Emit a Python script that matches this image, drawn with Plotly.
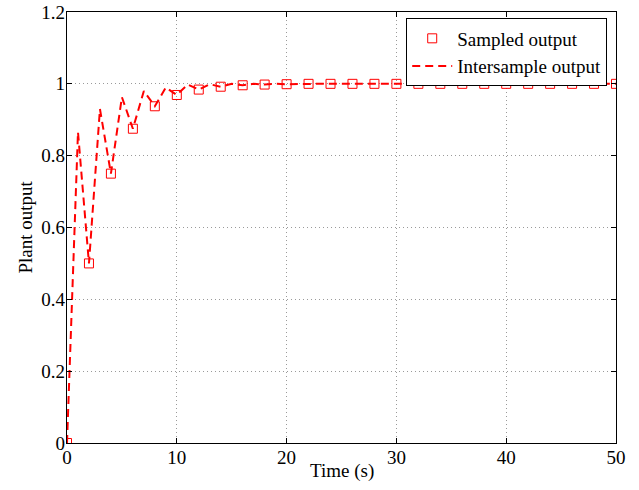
import plotly.graph_objects as go

# Sampled output (every 2 s)
t_sampled = [0, 2, 4, 6, 8, 10, 12, 14, 16, 18, 20, 22, 24, 26, 28, 30, 32, 34, 36, 38, 40, 42, 44, 46, 48, 50]
y_sampled = [0, 0.5, 0.75, 0.875, 0.9375, 0.969, 0.984, 0.992, 0.996, 0.998, 0.999, 1, 1, 1, 1, 1, 1, 1, 1, 1, 1, 1, 1, 1, 1, 1]

# Intersample output (every 1 s)
t_inter = [0, 1, 2, 3, 4, 5, 6, 7, 8, 9, 10, 11, 12, 13, 14, 15, 16, 17, 18, 19, 20,
           21, 22, 23, 24, 25, 26, 27, 28, 29, 30, 31, 32, 33, 34, 35, 36, 37, 38, 39, 40,
           41, 42, 43, 44, 45, 46, 47, 48, 49, 50]
y_inter = [0, 0.866, 0.5, 0.93, 0.75, 0.963, 0.875, 0.98, 0.9375, 0.99, 0.969, 0.998, 0.984, 0.999, 0.992, 1, 0.996, 1, 0.998, 1, 0.999,
           1, 1, 1, 1, 1, 1, 1, 1, 1, 1, 1, 1, 1, 1, 1, 1, 1, 1, 1, 1,
           1, 1, 1, 1, 1, 1, 1, 1, 1, 1]

x_ticks = [0, 10, 20, 30, 40, 50]
y_ticks = [0, 0.2, 0.4, 0.6, 0.8, 1, 1.2]
y_tick_labels = ["0", "0.2", "0.4", "0.6", "0.8", "1", "1.2"]

font = "Liberation Serif, Times New Roman, serif"
fs = 19

fig = go.Figure()
fig.add_trace(go.Scatter(
    x=t_sampled, y=y_sampled, mode="markers", name="Sampled output",
    marker=dict(symbol="square-open", size=9, color="#ff0000", line=dict(width=1)),
))
fig.add_trace(go.Scatter(
    x=t_inter, y=y_inter, mode="lines", name="Intersample output",
    line=dict(color="#ff0000", width=2, dash="8px,5px"),
))

axis_common = dict(
    showline=True, linecolor="black", linewidth=1.2, mirror="ticks",
    ticks="inside", ticklen=5, tickcolor="black",
    showgrid=True, gridcolor="#9a9a9a", griddash="1px,3px", gridwidth=1,
    zeroline=False, tickfont=dict(family=font, size=fs, color="black"),
    automargin=False, ticklabelstandoff=-3,
)

fig.update_xaxes(range=[0, 50], tickvals=x_ticks, **axis_common)
fig.update_yaxes(range=[0, 1.2], tickvals=y_ticks, ticktext=y_tick_labels, **axis_common)

fig.add_annotation(
    text="Time (s)", xref="paper", yref="paper", x=0.5, y=-0.064,
    xanchor="center", yanchor="middle", showarrow=False,
    font=dict(family=font, size=fs, color="black"),
)
fig.add_annotation(
    text="Plant output", xref="paper", yref="paper", x=-0.0765, y=0.5,
    xanchor="center", yanchor="middle", showarrow=False, textangle=-90,
    font=dict(family=font, size=fs, color="black"),
)

fig.update_layout(
    width=639, height=490,
    margin=dict(l=67, r=23, t=12, b=47),
    plot_bgcolor="white", paper_bgcolor="white",
    font=dict(family=font, size=fs, color="black"),
    showlegend=True,
    legend=dict(
        x=0.984, y=0.985, xanchor="right", yanchor="top",
        bgcolor="white", bordercolor="black", borderwidth=1,
        font=dict(family=font, size=fs, color="black"),
        tracegroupgap=0, itemwidth=40,
    ),
)

fig.write_html("out.html", config={"displayModeBar": False},
               post_script="document.body.style.margin='0';")
